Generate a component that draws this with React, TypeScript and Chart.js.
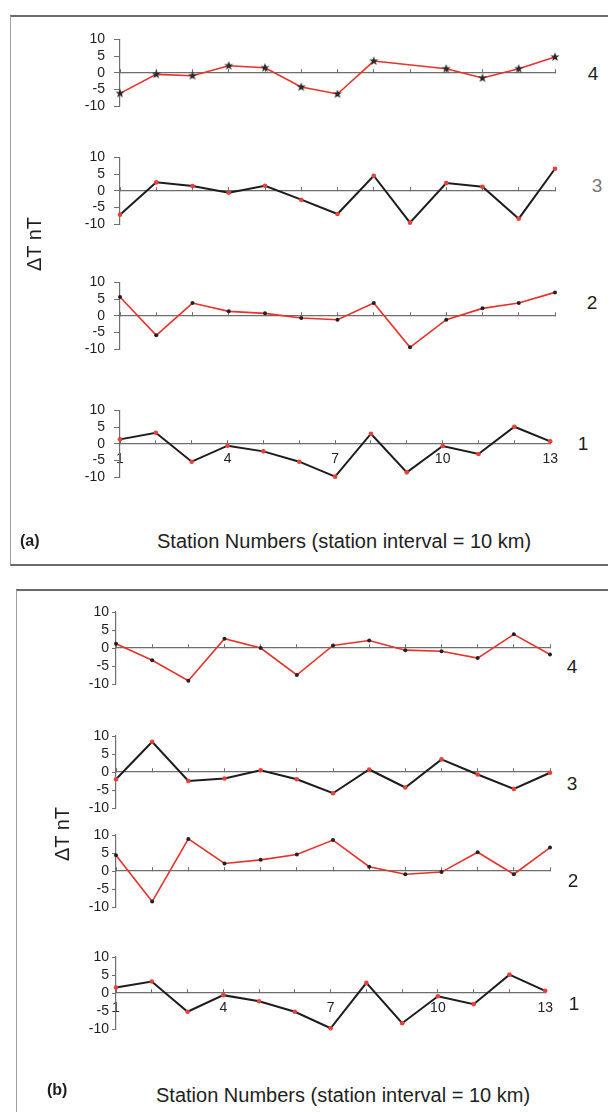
import React, { useEffect, useRef } from "react";
import { Chart, registerables } from "chart.js";
Chart.register(...registerables);

// ---------- data ----------
const stations = ["1", "2", "3", "4", "5", "6", "7", "8", "9", "10", "11", "12", "13"];
const xTickLabels = ["1", "4", "7", "10", "13"];
const yMin = -10;
const yMax = 10;
const yStep = 5;

// panel (a)
const a4 = [-6.2, -0.5, -0.9, 2.1, 1.5, -4.3, -6.4, 3.5, null, 1.2, -1.6, 1.2, 4.7];
const a3 = [-7.2, 2.5, 1.4, -0.6, 1.5, -2.7, -7.0, 4.5, -9.6, 2.3, 1.2, -8.4, 6.6];
const a2 = [5.6, -5.9, 3.8, 1.3, 0.7, -0.7, -1.2, 3.8, -9.5, -1.2, 2.2, 3.8, 7.0];
const a1 = [1.3, 3.3, -5.4, -0.6, -2.3, -5.4, -9.9, 3.0, -8.6, -0.7, -3.1, 5.1, 0.7];
// panel (b)
const b4 = [1.2, -3.4, -9.1, 2.6, 0, -7.5, 0.7, 2.1, -0.6, -0.9, -2.8, 3.8, -1.8];
const b3 = [-2.0, 8.4, -2.5, -1.8, 0.5, -2.0, -5.9, 0.7, -4.3, 3.5, -0.7, -4.7, -0.2];
const b2 = [4.4, -8.5, 8.9, 2.1, 3.1, 4.6, 8.6, 1.2, -0.9, -0.3, 5.2, -0.9, 6.5];
const b1 = [1.5, 3.2, -5.2, -0.6, -2.3, -5.2, -9.8, 2.8, -8.4, -0.9, -3.1, 5.1, 0.6];

const yTitle = "ΔT nT";
const xTitle = "Station Numbers (station interval = 10 km)";

// ---------- styles ----------
const FONT = "'Liberation Sans', Arial, Helvetica, sans-serif";
const RED = "#e5322b";
const BLACK = "#1c1c1c";
const AXIS = "#6e6e6e";
const TXT = "#1e1e1e";

function makeStar(): HTMLCanvasElement {
  const c = document.createElement("canvas");
  c.width = 10;
  c.height = 10;
  const ctx = c.getContext("2d")!;
  ctx.fillStyle = "#2a2a2a";
  ctx.beginPath();
  for (let i = 0; i < 10; i++) {
    const r = i % 2 === 0 ? 4.8 : 2.0;
    const ang = -Math.PI / 2 + (i * Math.PI) / 5;
    const x = 5 + r * Math.cos(ang);
    const y = 5 + r * Math.sin(ang);
    if (i === 0) ctx.moveTo(x, y);
    else ctx.lineTo(x, y);
  }
  ctx.closePath();
  ctx.fill();
  return c;
}

type SubProps = {
  data: (number | null)[];
  axisX: number;
  rightX: number;
  zeroY: number;
  half: number;
  line: string;
  point: string;
  lineWidth: number;
  pointRadius: number;
  star?: boolean;
  xLabels: string[];
  tickLen: number;
  tickPad: number;
};

function Subplot(p: SubProps) {
  const ref = useRef<HTMLCanvasElement>(null);
  const PADT = 12;
  const PADB = 30;
  const PADR = 14;
  const W = p.rightX + PADR;
  const H = 2 * p.half + PADT + PADB;
  const top = p.zeroY - p.half - PADT;

  useEffect(() => {
    if (!ref.current) return;
    const chart = new Chart(ref.current, {
      type: "line",
      data: {
        labels: stations,
        datasets: [
          {
            data: p.data,
            borderColor: p.line,
            borderWidth: p.lineWidth,
            pointRadius: p.star ? 5 : p.pointRadius,
            pointBackgroundColor: p.point,
            pointBorderColor: p.point,
            pointBorderWidth: 0,
            pointStyle: p.star ? makeStar() : "circle",
            spanGaps: true,
            tension: 0,
            clip: false as any,
          },
        ],
      },
      options: {
        animation: false,
        responsive: false,
        maintainAspectRatio: false,
        devicePixelRatio: 1,
        events: [],
        layout: { padding: { left: 0, right: PADR, top: PADT, bottom: PADB } },
        plugins: { legend: { display: false }, tooltip: { enabled: false }, title: { display: false } },
        scales: {
          x: {
            type: "category",
            position: { y: 0 } as any,
            offset: false,
            grid: { drawOnChartArea: false, drawTicks: true, tickLength: -4, color: AXIS, lineWidth: 1 },
            border: { display: true, color: AXIS, width: 1.2 },
            ticks: {
              autoSkip: false,
              maxRotation: 0,
              minRotation: 0,
              padding: 11,
              color: TXT,
              font: { family: FONT, size: 14 },
              callback: (_v: any, i: number) => (p.xLabels.includes(stations[i]) ? stations[i] : ""),
            },
            afterFit: (s: any) => {
              s.height = 0;
            },
          },
          y: {
            type: "linear",
            min: yMin,
            max: yMax,
            grid: { drawOnChartArea: false, drawTicks: true, tickLength: p.tickLen, color: AXIS, lineWidth: 1 },
            border: { display: true, color: AXIS, width: 1.2 },
            ticks: {
              stepSize: yStep,
              autoSkip: false,
              padding: p.tickPad,
              color: TXT,
              font: { family: FONT, size: 14 },
            },
            afterFit: (s: any) => {
              s.width = p.axisX;
            },
          },
        },
      },
    } as any);
    return () => chart.destroy();
  }, []);

  return (
    <canvas
      ref={ref}
      width={W}
      height={H}
      style={{ position: "absolute", left: 0, top, width: W, height: H }}
    />
  );
}

function Txt(props: { x: number; y: number; size: number; bold?: boolean; rotate?: boolean; color?: string; children: any; anchor?: "left" | "center" }) {
  const tx = props.anchor === "left" ? "0" : "-50%";
  return (
    <div
      style={{
        position: "absolute",
        left: props.x,
        top: props.y,
        transform: `translate(${tx}, -50%)${props.rotate ? " rotate(-90deg)" : ""}`,
        fontFamily: FONT,
        fontSize: props.size,
        fontWeight: props.bold ? 700 : 400,
        color: props.color || TXT,
        whiteSpace: "nowrap",
        lineHeight: 1,
      }}
    >
      {props.children}
    </div>
  );
}

export default function App() {
  const A = { axisX: 120, rightX: 555, half: 36, tickLen: 6, tickPad: 9 };
  const B = { axisX: 116, rightX: 550, half: 36, tickLen: 4, tickPad: 3 };
  const redLine = { line: RED, point: "#222", lineWidth: 1.6, pointRadius: 2 };
  const blackLine = { line: BLACK, point: "#e8403a", lineWidth: 2, pointRadius: 2.3 };
  return (
    <div
      style={{
        position: "absolute",
        left: 0,
        top: 0,
        width: 608,
        height: 1112,
        overflow: "hidden",
        background: "#fff",
      }}
    >
      {/* panel frames */}
      <div
        style={{
          position: "absolute",
          left: 10,
          top: 15,
          width: 620,
          height: 547,
          borderTop: "2px solid #6a6a6a",
          borderBottom: "2px solid #6a6a6a",
          borderLeft: "1px solid #a0a0a0",
        }}
      />
      <div
        style={{
          position: "absolute",
          left: 16,
          top: 589,
          width: 620,
          height: 560,
          borderTop: "2px solid #6a6a6a",
          borderLeft: "1px solid #a0a0a0",
        }}
      />

      {/* panel (a) */}
      <Subplot data={a4} {...A} {...redLine} star zeroY={70} xLabels={[]} />
      <Subplot data={a3} {...A} {...blackLine} zeroY={188} xLabels={[]} />
      <Subplot data={a2} {...A} {...redLine} zeroY={313} xLabels={[]} />
      <Subplot data={a1} {...A} {...blackLine} zeroY={441} xLabels={xTickLabels} />
      <Txt x={593} y={73} size={19}>4</Txt>
      <Txt x={597} y={185} size={19} color="#777">3</Txt>
      <Txt x={592} y={302} size={19}>2</Txt>
      <Txt x={583} y={443} size={19}>1</Txt>
      <Txt x={34} y={244} size={20} rotate>{yTitle}</Txt>
      <Txt x={20} y={541} size={16} bold anchor="left">(a)</Txt>
      <Txt x={157} y={541} size={20} anchor="left">{xTitle}</Txt>

      {/* panel (b) */}
      <Subplot data={b4} {...B} {...redLine} zeroY={648} xLabels={[]} />
      <Subplot data={b3} {...B} {...blackLine} zeroY={772} xLabels={[]} />
      <Subplot data={b2} {...B} {...redLine} zeroY={871} xLabels={[]} />
      <Subplot data={b1} {...B} {...blackLine} zeroY={993} xLabels={xTickLabels} />
      <Txt x={572} y={666} size={19}>4</Txt>
      <Txt x={572} y={783} size={19}>3</Txt>
      <Txt x={573} y={880} size={19}>2</Txt>
      <Txt x={574} y={1003} size={19}>1</Txt>
      <Txt x={62} y={834} size={20} rotate>{yTitle}</Txt>
      <Txt x={47} y={1090} size={16} bold anchor="left">(b)</Txt>
      <Txt x={156} y={1095} size={20} anchor="left">{xTitle}</Txt>
    </div>
  );
}
